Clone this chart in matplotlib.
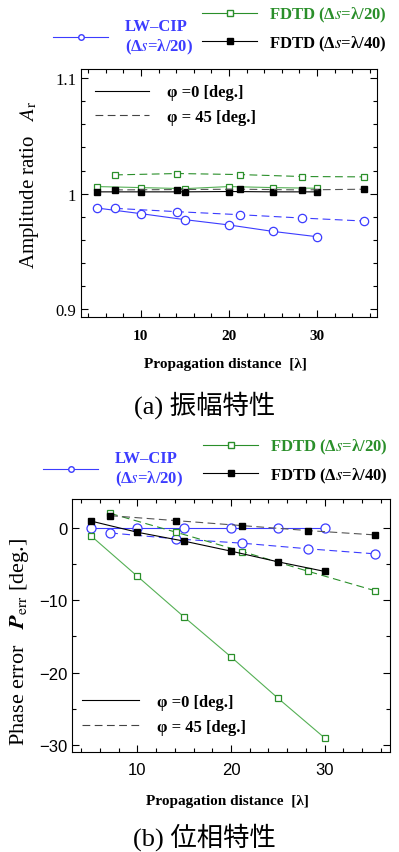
import matplotlib
matplotlib.use('Agg')
import matplotlib.pyplot as plt
from matplotlib.lines import Line2D
from matplotlib.ticker import MultipleLocator, FuncFormatter

plt.rcParams['font.family'] = ['Liberation Serif', 'Noto Sans CJK JP']
plt.rcParams['mathtext.fontset'] = 'stix'

# propagation distance [lambda]
dist0 = [5, 10, 15, 20, 25, 30]
dist45 = [7.07, 14.14, 21.21, 28.28, 35.36]

# amplitude ratio
amp_cip_0 = [0.9875, 0.9826, 0.9774, 0.9728, 0.9672, 0.9626]
amp_cip_45 = [0.9872, 0.9843, 0.9817, 0.9788, 0.9762]
amp_fd20_0 = [1.0061, 1.0052, 1.0043, 1.0061, 1.0052, 1.0046]
amp_fd20_45 = [1.0162, 1.0174, 1.0165, 1.0148, 1.0145]
amp_fd40_0 = [1.0015, 1.0015, 1.0015, 1.0018, 1.0015, 1.0015]
amp_fd40_45 = [1.0032, 1.0035, 1.0038, 1.0032, 1.0038]

# phase error [deg.]
ph_cip_0 = [0, 0, 0, 0, 0, 0]
ph_cip_45 = [-0.69, -1.51, -2.11, -2.89, -3.58]
ph_fd20_0 = [-1.06, -6.70, -12.34, -17.84, -23.53, -29.04]
ph_fd20_45 = [2.02, -0.60, -3.26, -6.01, -8.67]
ph_fd40_0 = [0.96, -0.60, -1.83, -3.21, -4.68, -6.01]
ph_fd40_45 = [1.70, 1.01, 0.32, -0.37, -0.96]

blue = '#3c3cff'
green = '#2a8f2a'
green_l = '#55b055'
dash = (7, 4)

fig = plt.figure(figsize=(3.99, 8.53), dpi=100)
ax1 = fig.add_axes([0.203, 0.6272, 0.7419, 0.2907])
ax2 = fig.add_axes([0.1805, 0.1172, 0.797, 0.2966])


def draw(ax, cip0, cip45, f20_0, f20_45, f40_0, f40_45, ms_c):
    ax.plot(dist0, cip0, color=blue, lw=0.8, marker='o', ms=ms_c, mfc='white', mec=blue, mew=0.9)
    ax.plot(dist45, cip45, color=blue, lw=0.8, dashes=dash, marker='o', ms=ms_c, mfc='white', mec=blue, mew=0.9)
    ax.plot(dist0, f20_0, color=green_l, lw=0.8, marker='s', ms=4.5, mfc='white', mec=green, mew=0.9)
    ax.plot(dist45, f20_45, color=green, lw=0.8, dashes=dash, marker='s', ms=4.5, mfc='white', mec=green, mew=0.9)
    ax.plot(dist0, f40_0, color='black', lw=0.8, marker='s', ms=4.5, mfc='black', mec='black')
    ax.plot(dist45, f40_45, color='#555555', lw=0.8, dashes=dash, marker='s', ms=4.5, mfc='black', mec='black')
    ax.tick_params(which='both', direction='in', top=True, right=True, width=0.8)
    ax.tick_params(which='major', length=5)
    ax.tick_params(which='minor', length=3)
    ax.xaxis.set_major_locator(MultipleLocator(10))
    ax.xaxis.set_minor_locator(MultipleLocator(2))
    for s in ax.spines.values():
        s.set_linewidth(0.8)


draw(ax1, amp_cip_0, amp_cip_45, amp_fd20_0, amp_fd20_45, amp_fd40_0, amp_fd40_45, 6)
ax1.set_xlim(3.2, 36.8)
ax1.set_ylim(0.893, 1.108)
ax1.yaxis.set_major_locator(MultipleLocator(0.1))
ax1.yaxis.set_minor_locator(MultipleLocator(0.02))
ax1.yaxis.set_major_formatter(FuncFormatter(lambda v, p: '%g' % round(v, 2)))
ax1.tick_params(axis='x', pad=9)
for lab in ax1.get_yticklabels():
    lab.set_fontsize(12)
for lab in ax1.get_xticklabels():
    lab.set_fontsize(11)
    lab.set_fontweight('bold')

draw(ax2, ph_cip_0, ph_cip_45, ph_fd20_0, ph_fd20_45, ph_fd40_0, ph_fd40_45, 6.5)
ax2.set_xlim(3.0, 37.0)
ax2.set_ylim(-31, 4)
ax2.yaxis.set_major_locator(MultipleLocator(10))
ax2.yaxis.set_minor_locator(MultipleLocator(5))
ax2.tick_params(axis='x', pad=7)
for lab in ax2.get_yticklabels() + ax2.get_xticklabels():
    lab.set_fontsize(12)
    lab.set_family('Liberation Sans')

# series legends above each panel
leg_font = {'family': 'Liberation Serif', 'weight': 'bold', 'size': 12}


def series_legends(y_cip, x_cip, y_fd, x_fd):
    h_cip = [Line2D([], [], color=blue, lw=0.8, marker='o', ms=4, mfc='white', mec=blue)]
    l1 = fig.legend(h_cip, ['LW–CIP\n(Δ$s$=λ/20)'], loc='center left',
                    bbox_to_anchor=(x_cip, y_cip), frameon=False, borderpad=0,
                    handlelength=3.3, handletextpad=1.0, prop=leg_font)
    for t in l1.get_texts():
        t.set_color(blue)
    h_fd = [Line2D([], [], color=green, lw=0.8, marker='s', ms=4, mfc='white', mec=green),
            Line2D([], [], color='black', lw=0.8, marker='s', ms=4, mfc='black', mec='black')]
    l2 = fig.legend(h_fd, ['FDTD (Δ$s$=λ/20)', 'FDTD (Δ$s$=λ/40)'], loc='center left',
                    bbox_to_anchor=(x_fd, y_fd), frameon=False, borderpad=0,
                    handlelength=3.3, handletextpad=0.7, labelspacing=0.55, prop=leg_font)
    l2.get_texts()[0].set_color(green)


series_legends(1 - 38 / 853, 45 / 399, 1 - 30 / 853, 194 / 399)
series_legends(1 - 470 / 853, 35 / 399, 1 - 462 / 853, 195 / 399)

# angle legends inside panels
ang_h = [Line2D([], [], color='black', lw=0.8),
         Line2D([], [], color='#444444', lw=0.8, dashes=dash)]
ang_l = ['φ =0 [deg.]', 'φ = 45 [deg.]']
fig.legend(ang_h, ang_l, loc='center left', bbox_to_anchor=(87 / 399, 1 - 105.5 / 853),
           frameon=False, borderpad=0, handlelength=3.2, handletextpad=1.1,
           labelspacing=0.5, prop=leg_font)
fig.legend(ang_h, ang_l, loc='center left', bbox_to_anchor=(74 / 399, 1 - 715.5 / 853),
           frameon=False, borderpad=0, handlelength=3.4, handletextpad=1.1,
           labelspacing=0.5, prop=leg_font)

# axis labels
fig.text(30 / 399, 1 - 185 / 853, 'Amplitude ratio   $A_{\\rm r}$', rotation=90,
         ha='center', va='center', fontsize=15)
fig.text(20 / 399, 1 - 642 / 853, 'Phase error   $\\boldsymbol{P}_{\\rm err}$ [deg.]', rotation=90,
         ha='center', va='center', fontsize=16)
fig.text(225 / 399, 1 - 365 / 853, 'Propagation distance  [λ]', ha='center', va='center',
         fontsize=11, fontweight='bold')
fig.text(227 / 399, 1 - 802 / 853, 'Propagation distance  [λ]', ha='center', va='center',
         fontsize=11, fontweight='bold')

# captions
fig.text(205 / 399, 1 - 405 / 853, '(a) 振幅特性', ha='center', va='center', fontsize=19)
fig.text(204 / 399, 1 - 837 / 853, '(b) 位相特性', ha='center', va='center', fontsize=19)

fig.savefig('out.png', dpi=100)
